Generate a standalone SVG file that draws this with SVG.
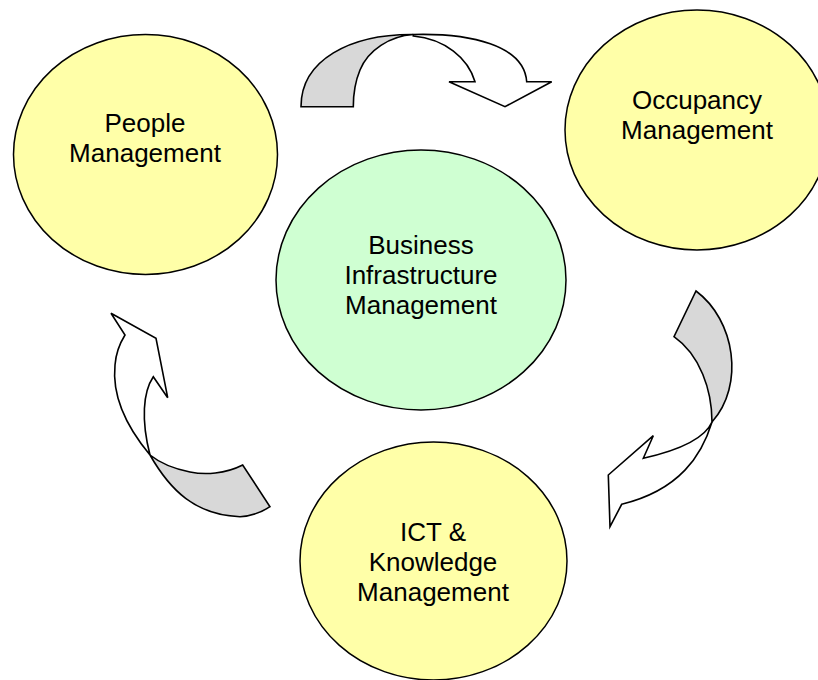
<svg xmlns="http://www.w3.org/2000/svg" width="818" height="680" viewBox="0 0 818 680">
  <style>
    .node { stroke: #000; stroke-width: 1.5; }
    .yellow { fill: #FFFFA8; }
    .green { fill: #CFFFD2; }
    .label { font-family: "Liberation Sans", Arial, sans-serif; font-size: 26px; fill: #000; text-anchor: middle; }
    .back { fill: #D8D8D8; stroke: #000; stroke-width: 1.6; stroke-linejoin: miter; }
    .front { fill: #FFFFFF; stroke: #000; stroke-width: 1.6; stroke-linejoin: miter; }
  </style>
  <rect width="818" height="680" fill="#FFFFFF"/>

  <g id="node-people">
    <ellipse class="node yellow" cx="145.5" cy="154.5" rx="132" ry="120"/>
    <text class="label" x="145" y="132">People</text>
    <text class="label" x="145" y="162">Management</text>
  </g>

  <g id="node-occupancy">
    <ellipse class="node yellow" cx="697" cy="130" rx="132" ry="120"/>
    <text class="label" x="697" y="109">Occupancy</text>
    <text class="label" x="697" y="139">Management</text>
  </g>

  <g id="node-business">
    <ellipse class="node green" cx="421" cy="280" rx="145" ry="130"/>
    <text class="label" x="421" y="254">Business</text>
    <text class="label" x="421" y="284">Infrastructure</text>
    <text class="label" x="421" y="314">Management</text>
  </g>

  <g id="node-ict">
    <ellipse class="node yellow" cx="433.5" cy="561" rx="133.5" ry="119"/>
    <text class="label" x="433" y="541">ICT &amp;</text>
    <text class="label" x="433" y="571">Knowledge</text>
    <text class="label" x="433" y="601">Management</text>
  </g>

  <g id="connectors">
    <!-- People -> Occupancy: curved ribbon arrow over the top -->
    <path class="back" d="M301,106.7 C301,60 350,34 413.3,34.5 C390,36 368,50 360,70 C355,82 353.3,95 353.3,106.7 Z"/>
    <path class="front" d="M413.3,34.5 C470,33 524,45 526.7,81.7 L551.7,81.7 L505,106.7 L449,81.7 L475,81.7 C468,58 445,39 413.3,36 Z"/>

    <!-- Occupancy -> ICT: curved ribbon arrow down the right side -->
    <path class="back" d="M696,291 C735,320 745,385 712,422 C712,390 700,355 674,336.7 Z"/>
    <path class="front" d="M712,422 C702,455 680,490 621.7,504.3 L610,526.7 L608.3,475 L653.3,435.7 L643.3,458.3 C680,450 705,438 712,422 Z"/>

    <!-- ICT -> People: curved ribbon arrow up the left side -->
    <path class="back" d="M150,455 C170,490 195,515 240,516.7 C252,516 262,512 270,506.7 L242.7,465 C225,474 205,475 190,472 C175,469 160,463 150,455 Z"/>
    <path class="front" d="M150,455 C125,425 112,395 115,365 C116,352 120,343 125,335 L111,313.3 L156,338.3 L167.7,397.7 L153.3,376.7 C143,392 141,420 150,455 Z"/>
  </g>
</svg>
